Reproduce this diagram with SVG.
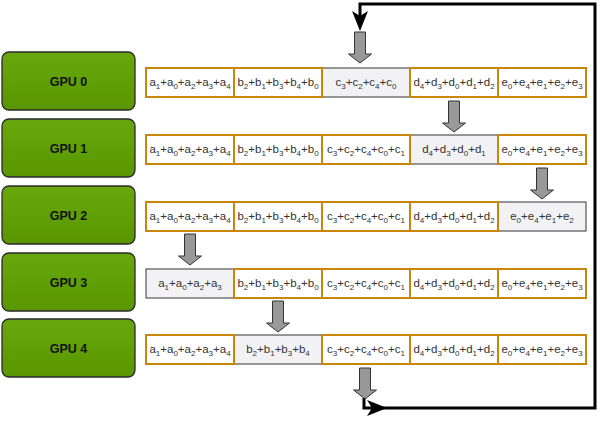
<svg xmlns="http://www.w3.org/2000/svg" width="600" height="422" viewBox="0 0 600 422">
<style>
.gpu rect{stroke:#2a2a2a;stroke-width:1.3;fill:url(#g)}
.gpu text{font-family:"Liberation Sans",Arial,sans-serif;font-size:12.5px;font-weight:bold;fill:#111;text-anchor:middle}
.c{fill:#fff;stroke:#c8870a;stroke-width:2}
.h{fill:#f2f2f4;stroke:#333;stroke-width:1}
.t{font-family:"Liberation Sans",Arial,sans-serif;font-size:11.5px;fill:#333;text-anchor:middle}
.s{font-size:8px;baseline-shift:-3px}
.ba{fill:#999;stroke:#333;stroke-width:1}
.ln{fill:none;stroke:#000;stroke-width:3}
</style>
<defs>
<linearGradient id="g" x1="0" y1="0" x2="0" y2="1">
<stop offset="0" stop-color="#68a80c"/>
<stop offset="1" stop-color="#599600"/>
</linearGradient>
<path id="blk" d="M-5.5,0 H5.5 V22 H11.5 L0,31 L-11.5,22 H-5.5 Z"/>
</defs>

<g id="gpu0" class="gpu"><rect x="2" y="52" width="133" height="58" rx="7"/><text x="68.5" y="86">GPU 0</text></g>
<g id="gpu1" class="gpu"><rect x="2" y="119" width="133" height="58" rx="7"/><text x="68.5" y="153">GPU 1</text></g>
<g id="gpu2" class="gpu"><rect x="2" y="186" width="133" height="58" rx="7"/><text x="68.5" y="220">GPU 2</text></g>
<g id="gpu3" class="gpu"><rect x="2" y="253" width="133" height="58" rx="7"/><text x="68.5" y="287">GPU 3</text></g>
<g id="gpu4" class="gpu"><rect x="2" y="319" width="133" height="58" rx="7"/><text x="68.5" y="353">GPU 4</text></g>

<g id="row0">
<rect class="h" x="322" y="68" width="88" height="29"/>
<rect class="c" x="146" y="68" width="88" height="29"/>
<rect class="c" x="234" y="68" width="88" height="29"/>
<rect class="c" x="410" y="68" width="88" height="29"/>
<rect class="c" x="498" y="68" width="88" height="29"/>
<text class="t" x="190" y="86">a<tspan class="s">1</tspan>+a<tspan class="s">0</tspan>+a<tspan class="s">2</tspan>+a<tspan class="s">3</tspan>+a<tspan class="s">4</tspan></text>
<text class="t" x="278" y="86">b<tspan class="s">2</tspan>+b<tspan class="s">1</tspan>+b<tspan class="s">3</tspan>+b<tspan class="s">4</tspan>+b<tspan class="s">0</tspan></text>
<text class="t" x="366" y="86">c<tspan class="s">3</tspan>+c<tspan class="s">2</tspan>+c<tspan class="s">4</tspan>+c<tspan class="s">0</tspan></text>
<text class="t" x="454" y="86">d<tspan class="s">4</tspan>+d<tspan class="s">3</tspan>+d<tspan class="s">0</tspan>+d<tspan class="s">1</tspan>+d<tspan class="s">2</tspan></text>
<text class="t" x="542" y="86">e<tspan class="s">0</tspan>+e<tspan class="s">4</tspan>+e<tspan class="s">1</tspan>+e<tspan class="s">2</tspan>+e<tspan class="s">3</tspan></text>
</g>

<g id="row1">
<rect class="h" x="410" y="135" width="88" height="29"/>
<rect class="c" x="146" y="135" width="88" height="29"/>
<rect class="c" x="234" y="135" width="88" height="29"/>
<rect class="c" x="322" y="135" width="88" height="29"/>
<rect class="c" x="498" y="135" width="88" height="29"/>
<text class="t" x="190" y="153">a<tspan class="s">1</tspan>+a<tspan class="s">0</tspan>+a<tspan class="s">2</tspan>+a<tspan class="s">3</tspan>+a<tspan class="s">4</tspan></text>
<text class="t" x="278" y="153">b<tspan class="s">2</tspan>+b<tspan class="s">1</tspan>+b<tspan class="s">3</tspan>+b<tspan class="s">4</tspan>+b<tspan class="s">0</tspan></text>
<text class="t" x="366" y="153">c<tspan class="s">3</tspan>+c<tspan class="s">2</tspan>+c<tspan class="s">4</tspan>+c<tspan class="s">0</tspan>+c<tspan class="s">1</tspan></text>
<text class="t" x="454" y="153">d<tspan class="s">4</tspan>+d<tspan class="s">3</tspan>+d<tspan class="s">0</tspan>+d<tspan class="s">1</tspan></text>
<text class="t" x="542" y="153">e<tspan class="s">0</tspan>+e<tspan class="s">4</tspan>+e<tspan class="s">1</tspan>+e<tspan class="s">2</tspan>+e<tspan class="s">3</tspan></text>
</g>

<g id="row2">
<rect class="h" x="498" y="202" width="88" height="29"/>
<rect class="c" x="146" y="202" width="88" height="29"/>
<rect class="c" x="234" y="202" width="88" height="29"/>
<rect class="c" x="322" y="202" width="88" height="29"/>
<rect class="c" x="410" y="202" width="88" height="29"/>
<text class="t" x="190" y="220">a<tspan class="s">1</tspan>+a<tspan class="s">0</tspan>+a<tspan class="s">2</tspan>+a<tspan class="s">3</tspan>+a<tspan class="s">4</tspan></text>
<text class="t" x="278" y="220">b<tspan class="s">2</tspan>+b<tspan class="s">1</tspan>+b<tspan class="s">3</tspan>+b<tspan class="s">4</tspan>+b<tspan class="s">0</tspan></text>
<text class="t" x="366" y="220">c<tspan class="s">3</tspan>+c<tspan class="s">2</tspan>+c<tspan class="s">4</tspan>+c<tspan class="s">0</tspan>+c<tspan class="s">1</tspan></text>
<text class="t" x="454" y="220">d<tspan class="s">4</tspan>+d<tspan class="s">3</tspan>+d<tspan class="s">0</tspan>+d<tspan class="s">1</tspan>+d<tspan class="s">2</tspan></text>
<text class="t" x="542" y="220">e<tspan class="s">0</tspan>+e<tspan class="s">4</tspan>+e<tspan class="s">1</tspan>+e<tspan class="s">2</tspan></text>
</g>

<g id="row3">
<rect class="h" x="146" y="269" width="88" height="29"/>
<rect class="c" x="234" y="269" width="88" height="29"/>
<rect class="c" x="322" y="269" width="88" height="29"/>
<rect class="c" x="410" y="269" width="88" height="29"/>
<rect class="c" x="498" y="269" width="88" height="29"/>
<text class="t" x="190" y="287">a<tspan class="s">1</tspan>+a<tspan class="s">0</tspan>+a<tspan class="s">2</tspan>+a<tspan class="s">3</tspan></text>
<text class="t" x="278" y="287">b<tspan class="s">2</tspan>+b<tspan class="s">1</tspan>+b<tspan class="s">3</tspan>+b<tspan class="s">4</tspan>+b<tspan class="s">0</tspan></text>
<text class="t" x="366" y="287">c<tspan class="s">3</tspan>+c<tspan class="s">2</tspan>+c<tspan class="s">4</tspan>+c<tspan class="s">0</tspan>+c<tspan class="s">1</tspan></text>
<text class="t" x="454" y="287">d<tspan class="s">4</tspan>+d<tspan class="s">3</tspan>+d<tspan class="s">0</tspan>+d<tspan class="s">1</tspan>+d<tspan class="s">2</tspan></text>
<text class="t" x="542" y="287">e<tspan class="s">0</tspan>+e<tspan class="s">4</tspan>+e<tspan class="s">1</tspan>+e<tspan class="s">2</tspan>+e<tspan class="s">3</tspan></text>
</g>

<g id="row4">
<rect class="h" x="234" y="335" width="88" height="29"/>
<rect class="c" x="146" y="335" width="88" height="29"/>
<rect class="c" x="322" y="335" width="88" height="29"/>
<rect class="c" x="410" y="335" width="88" height="29"/>
<rect class="c" x="498" y="335" width="88" height="29"/>
<text class="t" x="190" y="353">a<tspan class="s">1</tspan>+a<tspan class="s">0</tspan>+a<tspan class="s">2</tspan>+a<tspan class="s">3</tspan>+a<tspan class="s">4</tspan></text>
<text class="t" x="278" y="353">b<tspan class="s">2</tspan>+b<tspan class="s">1</tspan>+b<tspan class="s">3</tspan>+b<tspan class="s">4</tspan></text>
<text class="t" x="366" y="353">c<tspan class="s">3</tspan>+c<tspan class="s">2</tspan>+c<tspan class="s">4</tspan>+c<tspan class="s">0</tspan>+c<tspan class="s">1</tspan></text>
<text class="t" x="454" y="353">d<tspan class="s">4</tspan>+d<tspan class="s">3</tspan>+d<tspan class="s">0</tspan>+d<tspan class="s">1</tspan>+d<tspan class="s">2</tspan></text>
<text class="t" x="542" y="353">e<tspan class="s">0</tspan>+e<tspan class="s">4</tspan>+e<tspan class="s">1</tspan>+e<tspan class="s">2</tspan>+e<tspan class="s">3</tspan></text>
</g>

<g id="block-arrows" class="ba">
<use href="#blk" x="360" y="32"/>
<use href="#blk" x="454" y="101"/>
<use href="#blk" x="542" y="168"/>
<use href="#blk" x="190" y="234"/>
<use href="#blk" x="278" y="301"/>
<use href="#blk" x="365" y="368"/>
</g>

<g id="connectors">
<path class="ln" d="M364,398 V408 H595 V4 H360 V20"/>
<polygon points="360,31 352,11 360,16 368,11" fill="#000"/>
<polygon points="387,408 367,400 372,408 367,416" fill="#000"/>
</g>
</svg>
